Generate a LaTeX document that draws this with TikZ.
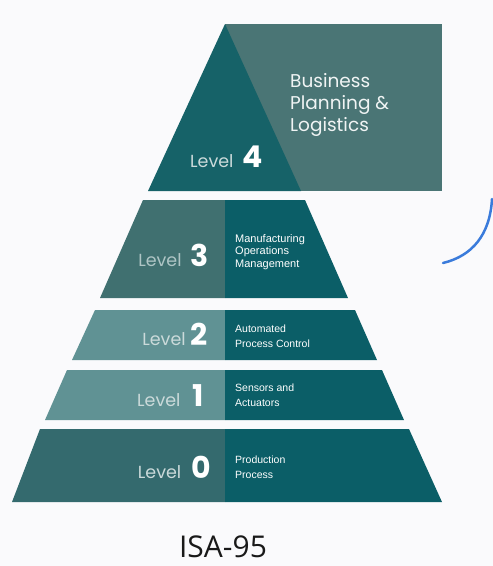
\documentclass[tikz,border=0pt]{standalone}
\usepackage{fontspec}
\usepackage{tikz}
\newfontfamily\popfont{Poppins}
\newfontfamily\descfont{Liberation Sans}
\newfontfamily\titlefont{Open Sans}

\definecolor{bgwhite}{HTML}{FAFAFC}
\definecolor{rectgray}{HTML}{4A7575}
\definecolor{tritop}{HTML}{166268}
\definecolor{darkteal}{HTML}{0B5E67}
\definecolor{midgray}{HTML}{407070}
\definecolor{lightteal}{HTML}{609294}
\definecolor{basegray}{HTML}{346A6E}
\definecolor{levelgray}{HTML}{CBDADA}
\definecolor{arcblue}{HTML}{3A7BDB}

\newcommand{\lvnum}[1]{{\bfseries\fontsize{30}{30}\selectfont\color{white}#1}}

\begin{document}
\begin{tikzpicture}[x=1pt, y=-1pt,
    leveltxt/.style={anchor=base east, text=levelgray, font=\popfont\fontsize{17.5}{20}\selectfont, inner sep=0pt},
    desc/.style={anchor=west, align=left, text=white, inner sep=0pt},
    ]
    % background
    \fill[bgwhite] (0,0) rectangle (493,566);
    \useasboundingbox (0,0) rectangle (493,566);

    % Level 4: box and triangle
    \fill[rectgray] (225,24) rectangle (442,191);
    \fill[tritop] (225,24) -- (301,191) -- (148,191) -- cycle;

    % Level 3
    \fill[midgray] (143,200) -- (225,200) -- (225,298) -- (100,298) -- cycle;
    \fill[darkteal] (225,200) -- (305,200) -- (348,298) -- (225,298) -- cycle;

    % Level 2 and Level 1
    \foreach \ya/\yb/\xa/\xb/\xc/\xd in {310/360/95/355/377/72, 370/420/67/382/404/45} {
        \fill[lightteal] (\xa,\ya) -- (225,\ya) -- (225,\yb) -- (\xd,\yb) -- cycle;
        \fill[darkteal] (225,\ya) -- (\xb,\ya) -- (\xc,\yb) -- (225,\yb) -- cycle;
    }

    % Level 0
    \fill[basegray] (40,429) -- (225,429) -- (225,502) -- (12,502) -- cycle;
    \fill[darkteal] (225,429) -- (409,429) -- (442,502) -- (225,502) -- cycle;

    % Level labels
    \node[leveltxt] (lvl4) at (263,167) {Level\hspace{9pt}\lvnum{4}};
    \node[leveltxt, text=levelgray!80!midgray] (lvl3) at (209,266) {Level\hspace{9pt}\lvnum{3}};
    \node[leveltxt] (lvl2) at (208,345) {Level\hspace{5pt}\lvnum{2}};
    \node[leveltxt] (lvl1) at (204,406) {Level\hspace{12pt}\lvnum{1}};
    \node[leveltxt] (lvl0) at (211,478) {Level\hspace{10pt}\lvnum{0}};

    % Descriptions
    \node[desc, text=white!92!rectgray, font=\popfont\fontsize{18.5}{22}\selectfont] (biz) at (290,105) {Business\\Planning \&\\Logistics};
    \node[desc, font=\descfont\fontsize{11}{12.5}\selectfont] (mom) at (235,252) {Manufacturing\\Operations\\Management};
    \node[desc, font=\descfont\fontsize{10.5}{14.5}\selectfont] (apc) at (235,336) {Automated\\Process Control};
    \node[desc, font=\descfont\fontsize{10.5}{14.5}\selectfont] (sna) at (235,395) {Sensors and\\Actuators};
    \node[desc, font=\descfont\fontsize{10.5}{14.5}\selectfont] (pp) at (235,467) {Production\\Process};

    % Title
    \node[font=\titlefont\fontsize{30}{32}\selectfont, text=black!90, anchor=base, inner sep=0pt] (title) at (223,557) {ISA-95};

    % blue stroke on the right
    \draw[arcblue, line width=2.5pt, line cap=round] (443,263) .. controls (472,256) and (490,235) .. (492,199);
\end{tikzpicture}
\end{document}
